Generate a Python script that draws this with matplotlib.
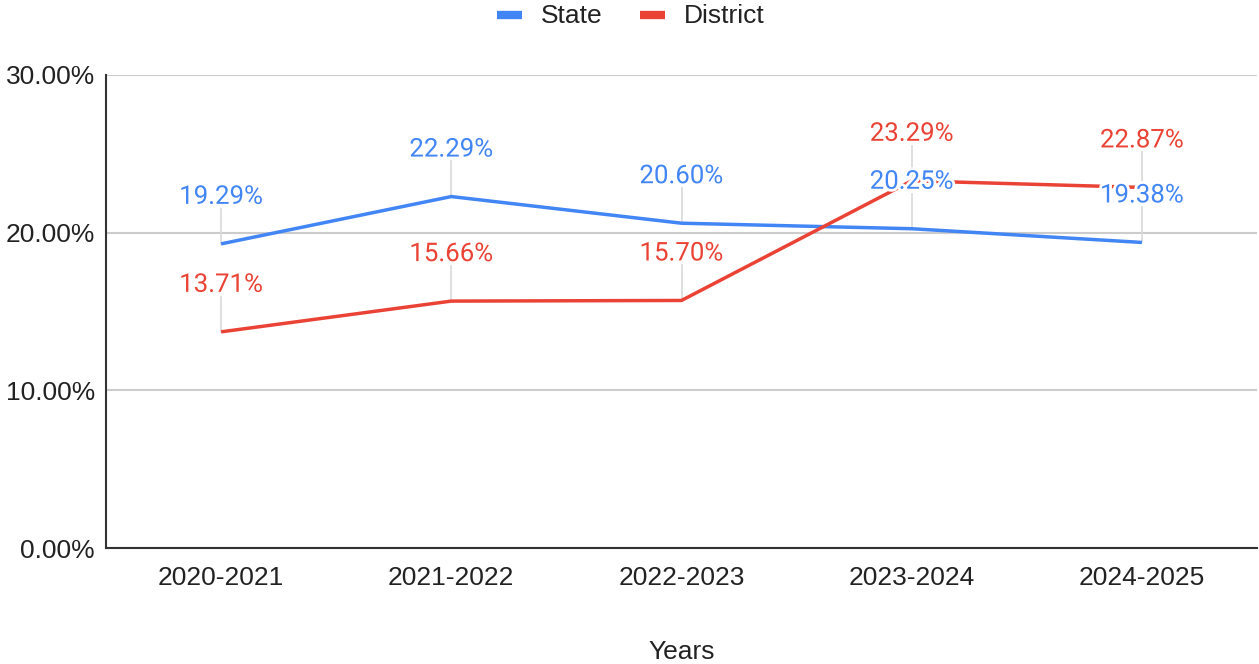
import matplotlib.pyplot as plt
import matplotlib.patheffects as pe
from matplotlib.ticker import FuncFormatter

plt.rcParams['font.family'] = ['Liberation Sans', 'DejaVu Sans']

years = ["2020-2021", "2021-2022", "2022-2023", "2023-2024", "2024-2025"]
state = [19.29, 22.29, 20.60, 20.25, 19.38]
district = [13.71, 15.66, 15.70, 23.29, 22.87]

blue = "#4285F4"
red = "#EA4335"

fig = plt.figure(figsize=(12.59, 6.64), dpi=100)
ax = fig.add_axes([106 / 1259, 1 - 548 / 664, 1151 / 1259, 473 / 664])

x = list(range(len(years)))
ax.plot(x, state, color=blue, lw=2.5, label="State", zorder=3, solid_capstyle="butt")
ax.plot(x, district, color=red, lw=2.5, label="District", zorder=3, solid_capstyle="butt")

ax.set_xlim(-0.5, len(years) - 0.5)
ax.set_ylim(0, 30)
ax.set_yticks([0, 10, 20, 30])
ax.yaxis.set_major_formatter(FuncFormatter(lambda v, p: f"{v:.2f}%"))
ax.set_xticks(x)
ax.set_xticklabels(years)
ax.tick_params(axis="both", length=0, labelsize=19, colors="#222222", pad=8)
ax.tick_params(axis="x", pad=13)
ax.grid(axis="y", color="#cccccc", lw=1.5, zorder=0)
for s in ["top", "right"]:
    ax.spines[s].set_visible(False)
for s in ["left", "bottom"]:
    ax.spines[s].set_color("#333333")
    ax.spines[s].set_linewidth(1.5)

ax.set_xlabel("Years", fontsize=19, color="#222222", labelpad=36)

# data labels with leader lines, ~47 px above the point
px_per_unit = 473 / 30
off = 47 / px_per_unit
halo = [pe.withStroke(linewidth=4, foreground="white")]
for series, col in [(district, red), (state, blue)]:
    for xi, v in zip(x, series):
        ax.plot([xi, xi], [v, v + off - 0.75], color="#d9d9d9", lw=1.2, zorder=2)
        ax.text(xi, v + off, f"{v:.2f}%", color=col, fontsize=18.6, ha="center",
                va="center", zorder=5, path_effects=halo, family=["Roboto", "DejaVu Sans"])

leg = fig.legend(loc="center", bbox_to_anchor=(631 / 1259, 1 - 16 / 664), ncol=2, frameon=False,
                 fontsize=19, handlelength=0.95, handleheight=0.4, columnspacing=1.4,
                 handletextpad=0.72, labelcolor="#222222")
for h in leg.legend_handles:
    h.set_linewidth(6)

fig.savefig("out.png", dpi=100)
